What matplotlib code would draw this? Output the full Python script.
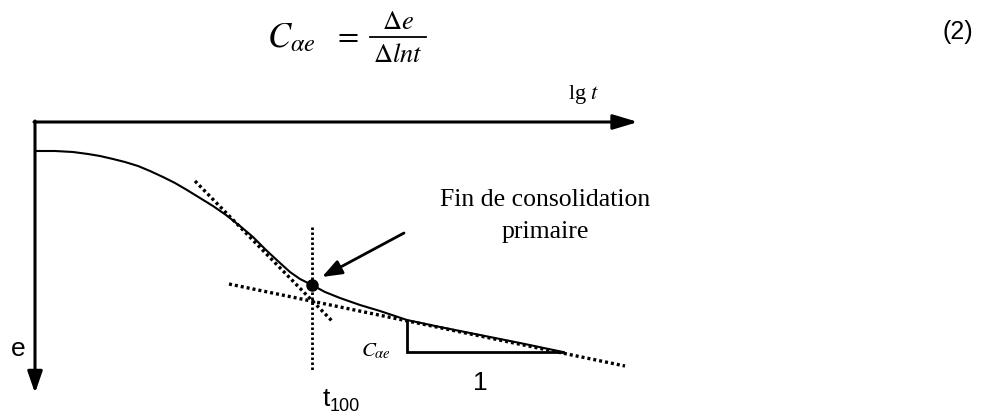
import matplotlib
matplotlib.use("Agg")
import matplotlib.pyplot as plt

# --- data (pixel-space schematic coordinates) ---
curve_x = [35, 55, 73, 88, 100, 113, 125, 138, 150, 163, 175, 187, 200, 213, 226, 240, 253, 266, 280, 290, 300, 312, 325, 340, 360, 380, 407, 440, 480, 520, 563]
curve_y = [152, 152, 153, 155, 157, 160, 163, 167, 172, 178, 184, 191, 199, 207, 216, 227, 238, 251, 264, 273, 280, 286, 293, 299, 306, 312, 321, 328, 336, 344, 353]
steep_x = [195, 333]
steep_y = [182, 323]
shallow_x = [229, 625]
shallow_y = [285, 367]
t100_x = [312, 312]
t100_y = [228, 372]
point_x = [312]
point_y = [286]
tri_x = [407, 407, 563]
tri_y = [322, 353, 353]

W, H = 991, 414
fig = plt.figure(figsize=(W / 100, H / 100), dpi=100)
ax = fig.add_axes([0, 0, 1, 1])
ax.set_xlim(0, W)
ax.set_ylim(H, 0)
ax.axis("off")

plt.rcParams['mathtext.fontset'] = 'stix'

# axes arrows
ax.annotate("", xy=(638, 123), xytext=(34, 123),
            arrowprops=dict(arrowstyle="-|>,head_length=1.5,head_width=0.45", lw=2.2, color="black",
                            shrinkA=0, shrinkB=0))
ax.annotate("", xy=(35, 394), xytext=(35, 122),
            arrowprops=dict(arrowstyle="-|>,head_length=1.3,head_width=0.45", lw=2.2, color="black",
                            shrinkA=0, shrinkB=0))

# curve
ax.plot(curve_x, curve_y, color="black", lw=1.5, solid_capstyle="round", solid_joinstyle="round")
# tangents and t100 line
dot = (0, (0.9, 0.9))
ax.plot(steep_x, steep_y, color="black", lw=2.4, linestyle=dot)
ax.plot(shallow_x, shallow_y, color="black", lw=2.4, linestyle=dot)
ax.plot(t100_x, t100_y, color="black", lw=2.0, linestyle=dot)
# point
ax.plot(point_x, point_y, "o", color="black", markersize=8)
# triangle
ax.plot(tri_x, tri_y, color="black", lw=2.0, solid_joinstyle="miter")

# annotation arrow
ax.annotate("", xy=(322, 278), xytext=(404, 234),
            arrowprops=dict(arrowstyle="-|>,head_length=1.2,head_width=0.45", lw=2.0, color="black",
                            shrinkA=0, shrinkB=0))

# formula
ax.text(267, 37, r"$C_{\alpha e}$", fontsize=25, ha="left", va="center")
ax.text(346, 36, r"$=$", fontsize=22, ha="center", va="center")
ax.plot([370, 426], [38, 38], color="black", lw=1.3)
ax.text(398, 22, r"$\Delta e$", fontsize=19, ha="center", va="center")
ax.text(398, 55, r"$\Delta lnt$", fontsize=19, ha="center", va="center")

ax.text(958, 32, "(2)", fontsize=18, ha="center", va="center", family="Liberation Sans")
ax.text(584, 95, r"lg $\it{t}$", fontsize=16, ha="center", va="center", family="Liberation Serif")
ax.text(545, 200, "Fin de consolidation", fontsize=18.5, ha="center", va="center", family="Liberation Serif")
ax.text(545, 232, "primaire", fontsize=18.5, ha="center", va="center", family="Liberation Serif")
ax.text(18, 349, "e", fontsize=19, ha="center", va="center", family="Liberation Sans")
ax.text(480, 383, "1", fontsize=19, ha="center", va="center", family="Liberation Sans")
ax.text(330, 406, "t", fontsize=19, ha="right", va="baseline", family="Liberation Sans")
ax.text(330, 411, "100", fontsize=13, ha="left", va="baseline", family="Liberation Sans")
ax.text(376, 351, r"$C_{\alpha e}$", fontsize=15, ha="center", va="center")

fig.savefig("out.png", dpi=100)
